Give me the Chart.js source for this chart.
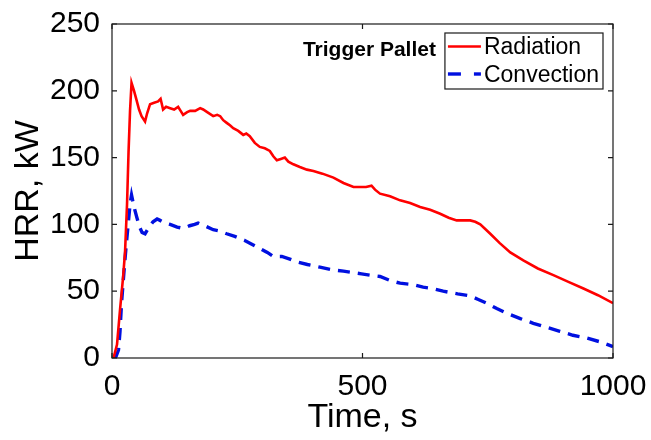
<!DOCTYPE html>
<html><head><meta charset="utf-8">
<script src="https://cdn.jsdelivr.net/npm/chart.js@4"></script>
<style>html,body{margin:0;padding:0;background:#fff}#wrap{width:651px;height:440px;position:relative}</style>
</head><body><div id="wrap"><canvas id="c"></canvas></div>
<script>
const radiationTime = [3,10,16,22,26,30,33,36,39,44,49,54,59,66,70,76,84,92,97,102,108,116,124,132,137,142,150,156,166,176,182,190,202,210,216,222,229,236,242,252,262,268,275,285,295,305,315,322,329,337,345,352,362,375,389,402,420,442,462,482,495,507,518,525,535,555,575,595,615,635,655,672,688,701,715,725,735,755,774,795,821,850,881,911,941,970,1000];
const radiationHRR = [0,10,36,60,79,115,154,185,206,200,193,186,181,177,183,190,191,192,194,186,188,187,186,188,185,182,184,185,185,187,186,184,181,182,181,178,176,174,172,170,167,168,166,161,158,157,155,151,148,149,150,147,145,143,141,140,138,135,131,128,128,128,129,126,123,121,118,116,113,111,108,105,103,103,103,102,100,93,86,79,73,67,62,57,52,47,41];
const convectionTime = [3,8,13,16,19,24,28,33,36,39,44,49,55,60,66,74,82,90,96,106,116,130,142,155,165,172,185,202,215,229,245,265,280,295,310,322,339,355,369,390,415,440,462,480,498,515,535,555,575,600,621,640,661,690,715,730,748,768,788,815,841,868,894,920,947,975,1000];
const convectionHRR = [0,1,6,20,41,65,83,103,115,122,113,106,98,94,93,98,102,104,103,101,100,98,97,99,100,101,99,96,95,93,91,88,85,82,79,76,76,74,72,70,68,66,65,64,63,62,61,58,56,55,53,52,50,48,46.5,44,41,37,33.5,29.5,26,23,20,17,15,12,8.5];
const xTicks = [0,500,1000];
const yTicks = [0,50,100,150,200,250];
const seriesNames = ['Radiation','Convection'];
const legendTitle = 'Trigger Pallet';
const xTitle = 'Time, s';
const yTitle = 'HRR, kW';

const FONT = "'Liberation Sans', Arial, sans-serif";
const toPts = (xs, ys) => xs.map((x, i) => ({x: x, y: ys[i]}));

const framePlugin = {
  id: 'frame',
  afterDatasetsDraw(chart) {
    const ctx = chart.ctx, a = chart.chartArea;
    const xs = chart.scales.x, ys = chart.scales.y;
    ctx.save();
    ctx.strokeStyle = '#1a1a1a';
    ctx.lineWidth = 1.2;
    ctx.strokeRect(a.left, a.top, a.right - a.left, a.bottom - a.top);
    const tl = 5;
    ctx.beginPath();
    xTicks.forEach(v => {
      const p = xs.getPixelForValue(v);
      ctx.moveTo(p, a.bottom); ctx.lineTo(p, a.bottom - tl);
      ctx.moveTo(p, a.top); ctx.lineTo(p, a.top + tl);
    });
    yTicks.forEach(v => {
      const p = ys.getPixelForValue(v);
      ctx.moveTo(a.left, p); ctx.lineTo(a.left + tl, p);
      ctx.moveTo(a.right, p); ctx.lineTo(a.right - tl, p);
    });
    ctx.stroke();

    // legend
    const ds = chart.data.datasets;
    ctx.font = '23px ' + FONT;
    const tw = Math.max(...seriesNames.map(n => ctx.measureText(n).width));
    const sample = 31, gap = 5;
    const bw = 3 + sample + gap + tw + 4;
    const bx = a.right - 10 - bw, by = a.top + 9, bh = 56;
    ctx.fillStyle = '#fff';
    ctx.fillRect(bx, by, bw, bh);
    ctx.strokeStyle = '#1a1a1a';
    ctx.lineWidth = 1.2;
    ctx.strokeRect(bx, by, bw, bh);
    const rows = [by + 13.5, by + 41];
    ds.forEach((d, i) => {
      ctx.save();
      ctx.strokeStyle = d.borderColor;
      ctx.lineWidth = d.borderWidth;
      ctx.setLineDash(i === 1 ? [13, 13] : []);
      ctx.beginPath();
      ctx.moveTo(bx + 3, rows[i]); ctx.lineTo(bx + 3 + sample + 2, rows[i]);
      ctx.stroke();
      ctx.restore();
      ctx.fillStyle = '#000';
      ctx.textAlign = 'left';
      ctx.textBaseline = 'middle';
      ctx.font = '23px ' + FONT;
      ctx.fillText(d.label, bx + 3 + sample + gap, rows[i] + 1.5);
    });
    ctx.font = 'bold 21px ' + FONT;
    ctx.textAlign = 'right';
    ctx.textBaseline = 'alphabetic';
    ctx.fillText(legendTitle, bx - 9, by + 23);
    ctx.restore();
  }
};

new Chart(document.getElementById('c'), {
  type: 'line',
  data: {
    datasets: [
      {label: seriesNames[0], data: toPts(radiationTime, radiationHRR), borderColor: '#ff0000', borderWidth: 2.6, pointRadius: 0, tension: 0, fill: false},
      {label: seriesNames[1], data: toPts(convectionTime, convectionHRR), borderColor: '#0010e0', borderWidth: 3.4, borderDash: [12, 8], pointRadius: 0, tension: 0, fill: false}
    ]
  },
  options: {
    responsive: true,
    maintainAspectRatio: false,
    animation: false,
    devicePixelRatio: 1,
    layout: {padding: {top: 24, right: 38, left: 0, bottom: 0}},
    plugins: {legend: {display: false}, tooltip: {enabled: false}},
    scales: {
      x: {
        type: 'linear', min: 0, max: 1000,
        afterBuildTicks: s => { s.ticks = xTicks.map(v => ({value: v})); },
        afterFit: s => { s.height = 82; s.paddingLeft = 0; s.paddingRight = 0; },
        grid: {display: false, drawTicks: false},
        border: {display: false},
        ticks: {font: {size: 30, family: FONT}, color: '#000', padding: 11, maxRotation: 0, callback: v => String(v)},
        title: {display: true, text: xTitle, font: {size: 34, family: FONT}, color: '#000', padding: {top: 0, bottom: 2}}
      },
      y: {
        type: 'linear', min: 0, max: 250,
        afterBuildTicks: s => { s.ticks = yTicks.map(v => ({value: v})); },
        afterFit: s => { s.width = 112; s.paddingTop = 0; s.paddingBottom = 0; },
        grid: {display: false, drawTicks: false},
        border: {display: false},
        ticks: {font: {size: 30, family: FONT}, color: '#000', padding: 12, callback: v => String(v)},
        title: {display: true, text: yTitle, font: {size: 34, family: FONT}, color: '#000', padding: {top: 8, bottom: 0}}
      }
    }
  },
  plugins: [framePlugin]
});
</script></body></html>
